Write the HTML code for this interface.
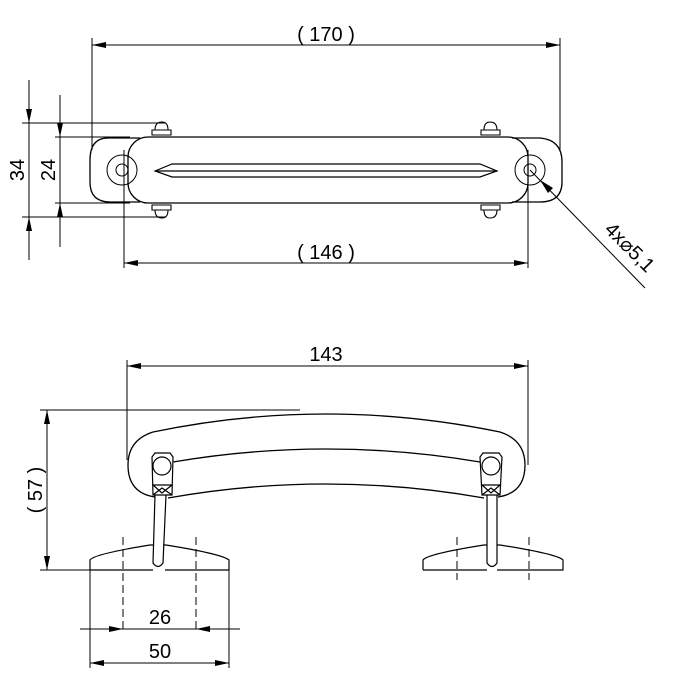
<!DOCTYPE html>
<html><head><style>
html,body{margin:0;padding:0;background:#fff;}
svg{display:block;}
text{font-family:"Liberation Sans",Arial,sans-serif;fill:#000;}
</style></head><body>
<svg width="680" height="686" viewBox="0 0 680 686" xmlns="http://www.w3.org/2000/svg">
<g fill="none" stroke="#000" stroke-width="1">
<!-- 170 dim -->
<line x1="92" y1="38" x2="92" y2="150"/>
<line x1="560" y1="38" x2="560" y2="150"/>
<line x1="92" y1="45" x2="560" y2="45"/>
<!-- 146 dim -->
<line x1="124" y1="150" x2="124" y2="268"/>
<line x1="528" y1="150" x2="528" y2="268"/>
<line x1="124" y1="263" x2="528" y2="263"/>
<!-- 34 / 24 -->
<line x1="22" y1="123" x2="165" y2="123"/>
<line x1="22" y1="217" x2="165" y2="217"/>
<line x1="55" y1="137" x2="130" y2="137"/>
<line x1="55" y1="203" x2="130" y2="203"/>
<line x1="29" y1="80" x2="29" y2="260"/>
<line x1="60" y1="95" x2="60" y2="247"/>
<!-- top view body -->
<path d="M140,138 L108,138 Q90,138 90,160 L90,182 Q90,202 110,202 L140,202" stroke-width="1.3"/>
<path d="M512,138 L540,138 Q562,140 562,162 L562,182 Q562,202 540,202 L512,202" stroke-width="1.3"/>
<rect x="128" y="137" width="400" height="66" rx="20" stroke-width="1.3"/>
<circle cx="122" cy="170" r="15"/><circle cx="122" cy="170" r="6"/>
<circle cx="530" cy="170" r="15"/><circle cx="530" cy="170" r="6"/>
<line x1="124" y1="150" x2="124" y2="228" stroke-dasharray="8,3"/>
<path d="M155,171 L172,164 L480,164 L497,171 L480,177 L172,177 Z" stroke-width="1.2"/>
<line x1="155" y1="171" x2="497" y2="171" stroke-width="1.3"/>
<!-- screws -->
<g stroke-width="1.1">
<path d="M152,135 L152,130 L171,130 L171,135 Z M155,130 Q155,122 162,122 Q168,122 168,130"/>
<path d="M152,205 L152,210 L171,210 L171,205 Z M155,210 Q155,218 162,218 Q168,218 168,210"/>
<path d="M481,135 L481,130 L500,130 L500,135 Z M484,130 Q484,122 490,122 Q497,122 497,130"/>
<path d="M481,205 L481,210 L500,210 L500,205 Z M484,210 Q484,218 490,218 Q497,218 497,210"/>
</g>
<!-- leader -->
<line x1="530" y1="170" x2="645" y2="288"/>
<!-- 143 dim -->
<line x1="127" y1="360" x2="127" y2="460"/>
<line x1="528" y1="360" x2="528" y2="465"/>
<line x1="127" y1="366" x2="528" y2="366"/>
<!-- 57 dim -->
<line x1="40" y1="410" x2="300" y2="410"/>
<line x1="40" y1="570" x2="92" y2="570"/>
<line x1="47" y1="410" x2="47" y2="570"/>
<!-- handle side view -->
<path d="M153,432 Q326,396 500,432 Q525,440 525,465 Q525,493 498,497" stroke-width="1.3"/>
<path d="M153,432 Q128,440 128,465 Q128,493 155,497" stroke-width="1.3"/>
<path d="M173,462 Q326,436 480,462" stroke-width="1.3"/>
<path d="M168,498 Q326,470 484,498" stroke-width="1.3"/>
<g stroke-width="1.2">
<path d="M152,457 L155,453 L170,453 L173,457 L172,495 L153,495 Z"/>
<circle cx="162" cy="466" r="9"/>
<path d="M153,485 L172,485 M153,485 L162,493 L172,485 M153,495 L162,488 L172,495"/>
<path d="M480,457 L483,453 L499,453 L502,457 L500,495 L482,495 Z"/>
<circle cx="491" cy="466" r="9"/>
<path d="M482,485 L500,485 M482,485 L491,493 L500,485 M482,495 L491,488 L500,495"/>
<path d="M155,495 L153,563 Q158,570 163,563 L166,495"/>
<path d="M487,495 L487,563 Q492,570 497,563 L497,495"/>
<path d="M90,570 L90,560 Q94,554 150,545 L154,545 M163,545 L166,545 Q222,554 229,560 L229,570 L165,570 M153,570 L90,570"/>
<path d="M423,570 L423,560 Q427,554 484,545 L487,545 M497,545 L500,545 Q557,554 563,560 L563,570 L497,570 M487,570 L423,570"/>
</g>
<line x1="123" y1="537" x2="123" y2="632" stroke-dasharray="8,4"/>
<line x1="196" y1="537" x2="196" y2="632" stroke-dasharray="8,4"/>
<line x1="457" y1="537" x2="457" y2="580" stroke-dasharray="8,4"/>
<line x1="529" y1="537" x2="529" y2="580" stroke-dasharray="8,4"/>
<!-- 26 / 50 -->
<line x1="90" y1="570" x2="90" y2="668"/>
<line x1="229" y1="570" x2="229" y2="668"/>
<line x1="80" y1="629" x2="240" y2="629"/>
<line x1="90" y1="663" x2="229" y2="663"/>
</g>
<g fill="#000" stroke="none">
<!-- 170 -->
<polygon points="92,45 106,42 106,48"/><polygon points="560,45 546,42 546,48"/>
<!-- 146 -->
<polygon points="124,263 138,260 138,266"/><polygon points="528,263 514,260 514,266"/>
<!-- 34 outside arrows -->
<polygon points="29,123 26,109 32,109"/><polygon points="29,217 26,231 32,231"/>
<!-- 24 -->
<polygon points="60,137 57,123 63,123"/><polygon points="60,203 57,217 63,217"/>
<!-- leader -->
<polygon points="540,180 553,188 548,193"/>
<!-- 143 -->
<polygon points="127,366 141,363 141,369"/><polygon points="528,366 514,363 514,369"/>
<!-- 57 -->
<polygon points="47,410 44,424 50,424"/><polygon points="47,570 44,556 50,556"/>
<!-- 26 outside -->
<polygon points="123,629 109,626 109,632"/><polygon points="196,629 210,626 210,632"/>
<!-- 50 -->
<polygon points="90,663 104,660 104,666"/><polygon points="229,663 215,660 215,666"/>
</g>
<text x="326" y="41" font-size="20" text-anchor="middle" xml:space="preserve">( 170 )</text>
<text x="326" y="259" font-size="20" text-anchor="middle" xml:space="preserve">( 146 )</text>
<text x="326" y="361" font-size="20" text-anchor="middle">143</text>
<text x="160" y="624" font-size="20" text-anchor="middle">26</text>
<text x="160" y="658" font-size="20" text-anchor="middle">50</text>
<text transform="translate(24,170) rotate(-90)" font-size="20" text-anchor="middle">34</text>
<text transform="translate(55,170) rotate(-90)" font-size="20" text-anchor="middle">24</text>
<text transform="translate(42,490) rotate(-90)" font-size="20" text-anchor="middle" xml:space="preserve">( 57 )</text>
<text transform="translate(625,252) rotate(45)" font-size="20" text-anchor="middle">4x⌀5,1</text>
</g>
</svg>
</body></html>
